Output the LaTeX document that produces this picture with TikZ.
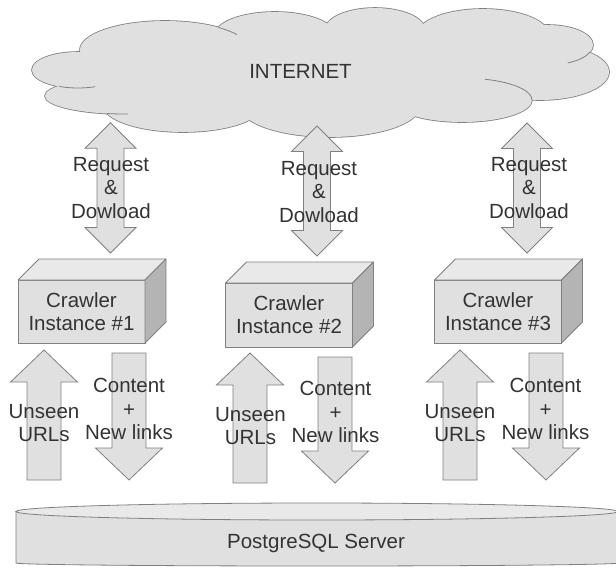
\documentclass[tikz,border=0pt]{standalone}
\usepackage{fontspec}
\setmainfont{Liberation Sans}
\usetikzlibrary{positioning}
\definecolor{fillgray}{HTML}{E0E0E0}
\definecolor{topgray}{HTML}{E9E9E9}
\definecolor{sidegray}{HTML}{B4B4B4}
\definecolor{rim}{HTML}{808080}
\definecolor{ink}{HTML}{333333}

\newcommand{\arrowup}[3]{%
  \filldraw[blockarrow] (#1,#2) -- ({#1+33.5},{#2+32}) -- ({#1+17},{#2+32}) -- ({#1+17},#3)
    -- ({#1-17},#3) -- ({#1-17},{#2+32}) -- ({#1-33.5},{#2+32}) -- cycle;}
\newcommand{\arrowdown}[3]{%
  \filldraw[blockarrow] (#1,#3) -- ({#1+33.5},{#3-32}) -- ({#1+17},{#3-32}) -- ({#1+17},#2)
    -- ({#1-17},#2) -- ({#1-17},{#3-32}) -- ({#1-33.5},{#3-32}) -- cycle;}
\newcommand{\arrowboth}[3]{%
  \filldraw[blockarrow] (#1,#2) -- ({#1+25.5},{#2+25.5}) -- ({#1+13.5},{#2+25.5}) -- ({#1+13.5},{#3-25.5})
    -- ({#1+25.5},{#3-25.5}) -- (#1,#3) -- ({#1-25.5},{#3-25.5}) -- ({#1-13.5},{#3-25.5})
    -- ({#1-13.5},{#2+25.5}) -- ({#1-25.5},{#2+25.5}) -- cycle;}

\begin{document}
\begin{tikzpicture}[x=1pt,y=-1pt,
  txt/.style={inner sep=0pt,align=center,text=ink,font=\fontsize{20.5pt}{23.3pt}\selectfont},
  blockarrow/.style={fill=fillgray,draw=rim,line width=0.8pt},
  cloudrim/.style={draw=rim,line width=0.8pt},
  crawler/.style={txt,draw=rim,fill=fillgray,line width=0.8pt,minimum width=127pt,minimum height=63pt,outer sep=0pt},
  boxtop/.style={fill=topgray,draw=rim,line width=0.8pt,line join=round},
  boxside/.style={fill=sidegray,draw=rim,line width=0.8pt,line join=round},
  dbside/.style={fill=fillgray,draw=rim,line width=0.8pt},
  dbtop/.style={fill=topgray,draw=rim,line width=0.8pt}]
\useasboundingbox (0,0) rectangle (616,568);

\foreach \cx/\cy/\rx/\ry in {78/70/46/18,125/96/80/18,165/50/85/29,275/35/60/23,375/30/50/22,
    483/35/66/26,548/45/45/20,540/72/69/28,462/100/70/22,330/106/90/31,183/105/80/27,320/72/250/45}
  \draw[draw=rim,line width=1.6pt] (\cx,\cy) ellipse[x radius=\rx,y radius=\ry];
\foreach \cx/\cy/\rx/\ry in {78/70/46/18,125/96/80/18,165/50/85/29,275/35/60/23,375/30/50/22,
    483/35/66/26,548/45/45/20,540/72/69/28,462/100/70/22,330/106/90/31,183/105/80/27,320/72/250/45}
  \fill[fill=fillgray] (\cx,\cy) ellipse[x radius=\rx,y radius=\ry];
\draw[cloudrim] ([shift={(114:46 and 18)}]78,70) arc[start angle=114,end angle=68,x radius=46,y radius=18];
\draw[cloudrim] ([shift={(103:80 and 18)}]125,96) arc[start angle=103,end angle=88,x radius=80,y radius=18];
\draw[cloudrim] ([shift={(-51:85 and 29)}]165,50) arc[start angle=-51,end angle=-32,x radius=85,y radius=29];
\draw[cloudrim] ([shift={(21:45 and 20)}]548,45) arc[start angle=21,end angle=64,x radius=45,y radius=20];
\draw[cloudrim] ([shift={(-71:70 and 22)}]462,100) arc[start angle=-71,end angle=0,x radius=70,y radius=22];
\node[txt] (net) at (300.5,71.5) {INTERNET};

\arrowboth{110.5}{122.7}{253}
\arrowboth{317}{126}{256}
\arrowboth{527}{123}{253}
\node[txt] (req1) at (111,188) {Request\\\&\\Dowload};
\node[txt] (req2) at (319,192) {Request\\\&\\Dowload};
\node[txt] (req3) at (529,188) {Request\\\&\\Dowload};

\node[crawler] (c1) at (81.5,311.5) {Crawler\\Instance \#1};
\node[crawler,minimum height=64pt] (c2) at (289,315) {Crawler\\Instance \#2};
\node[crawler] (c3) at (498,311.5) {Crawler\\Instance \#3};
\foreach \c in {c1,c2,c3} {
  \filldraw[boxtop] (\c.north west) -- ++(21,-21) -- ([shift={(21,-21)}]\c.north east) -- (\c.north east) -- cycle;
  \filldraw[boxside] (\c.north east) -- ([shift={(21,-21)}]\c.north east) -- ([shift={(21,-21)}]\c.south east) -- (\c.south east) -- cycle;
}

\arrowup{44}{350}{480}
\arrowdown{129}{353}{480}
\arrowup{250}{353}{483}
\arrowdown{335}{357}{483}
\arrowup{460}{350}{480}
\arrowdown{546}{353}{480}
\node[txt] (url1) at (44,423) {Unseen\\URLs};
\node[txt] (url2) at (250.5,426) {Unseen\\URLs};
\node[txt] (url3) at (460,423) {Unseen\\URLs};
\node[txt] (new1) at (129,409) {Content\\+\\New links};
\node[txt] (new2) at (335.5,412) {Content\\+\\New links};
\node[txt] (new3) at (545.5,409) {Content\\+\\New links};

\filldraw[dbside] (16,511.5) -- (16,563) arc[start angle=180,end angle=0,x radius=301,y radius=3] -- (618,511.5) -- cycle;
\filldraw[dbtop] (317,511.5) ellipse[x radius=301,y radius=8.5];
\node[txt] (db) at (316,543) {PostgreSQL Server};
\end{tikzpicture}
\end{document}
